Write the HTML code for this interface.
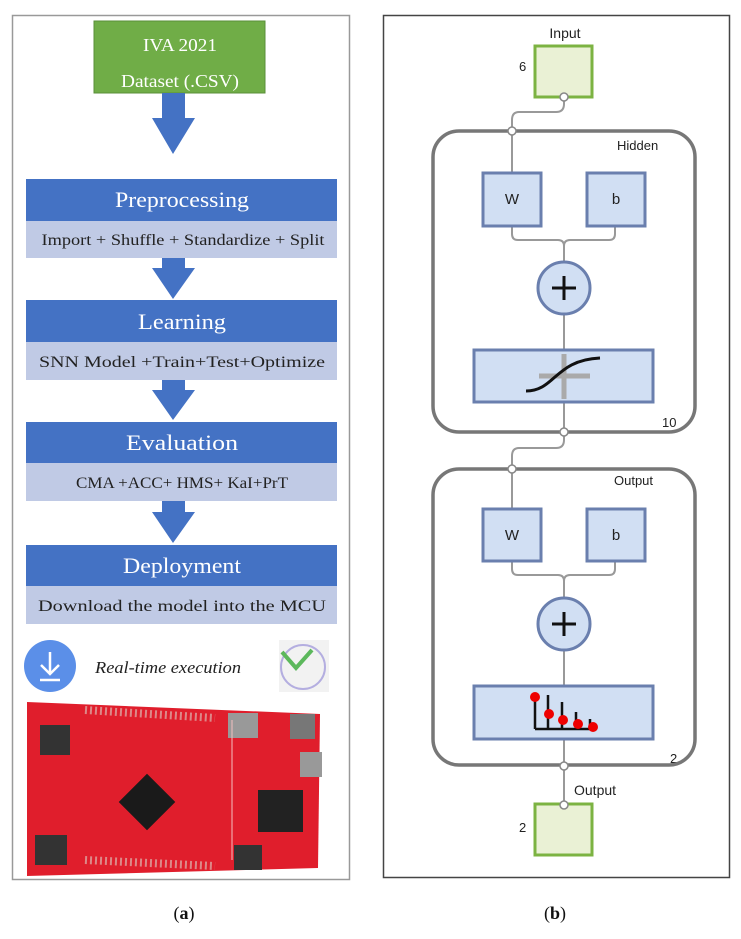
<!DOCTYPE html>
<html><head><meta charset="utf-8"><style>
html,body{margin:0;padding:0;background:#fff;}
svg{display:block;}
</style></head><body>
<svg width="741" height="939" viewBox="0 0 741 939" xmlns="http://www.w3.org/2000/svg">
<!-- LEFT PANEL -->
<rect x="12.5" y="15.5" width="337" height="864" fill="#fff" stroke="#999" stroke-width="1.5"/>
<rect x="94" y="21" width="171" height="72" fill="#70ad47" stroke="#5a8f38"/>
<text x="180" y="51" font-family="Liberation Serif,serif" font-size="18" fill="#fff" text-anchor="middle" textLength="74" lengthAdjust="spacingAndGlyphs">IVA 2021</text>
<text x="180" y="87" font-family="Liberation Serif,serif" font-size="18" fill="#fff" text-anchor="middle" textLength="118" lengthAdjust="spacingAndGlyphs">Dataset (.CSV)</text>
<g fill="#4472c4">
<polygon points="162,93 185,93 185,118 195,118 173,154 152,118 162,118"/>
<polygon points="162,258 185,258 185,268 195,268 173,299 152,268 162,268"/>
<polygon points="162,380 185,380 185,390 195,390 173,420 152,390 162,390"/>
<polygon points="162,501 185,501 185,512 195,512 173,543 152,512 162,512"/>
</g>
<g font-family="Liberation Serif,serif" text-anchor="middle">
<rect x="26" y="179" width="311" height="42" fill="#4472c4"/>
<rect x="26" y="221" width="311" height="37" fill="#c0cae5"/>
<text x="182" y="207" font-size="22" fill="#fff" textLength="134" lengthAdjust="spacingAndGlyphs">Preprocessing</text>
<text x="183" y="245" font-size="16" fill="#222" textLength="283" lengthAdjust="spacingAndGlyphs">Import + Shuffle + Standardize + Split</text>
<rect x="26" y="300" width="311" height="42" fill="#4472c4"/>
<rect x="26" y="342" width="311" height="38" fill="#c0cae5"/>
<text x="182" y="329" font-size="22" fill="#fff" textLength="88" lengthAdjust="spacingAndGlyphs">Learning</text>
<text x="182" y="367" font-size="16" fill="#222" textLength="286" lengthAdjust="spacingAndGlyphs">SNN Model +Train+Test+Optimize</text>
<rect x="26" y="422" width="311" height="41" fill="#4472c4"/>
<rect x="26" y="463" width="311" height="38" fill="#c0cae5"/>
<text x="182" y="450" font-size="22" fill="#fff" textLength="112" lengthAdjust="spacingAndGlyphs">Evaluation</text>
<text x="182" y="488" font-size="16" fill="#222" textLength="212" lengthAdjust="spacingAndGlyphs">CMA +ACC+ HMS+ KaI+PrT</text>
<rect x="26" y="545" width="311" height="41" fill="#4472c4"/>
<rect x="26" y="586" width="311" height="38" fill="#c0cae5"/>
<text x="182" y="573" font-size="22" fill="#fff" textLength="118" lengthAdjust="spacingAndGlyphs">Deployment</text>
<text x="182" y="611" font-size="16" fill="#222" textLength="288" lengthAdjust="spacingAndGlyphs">Download the model into the MCU</text>
<text x="168" y="673" font-size="17" font-style="italic" fill="#222" textLength="146" lengthAdjust="spacingAndGlyphs">Real-time execution</text>
</g>
<circle cx="50" cy="666" r="26" fill="#5b8fe8"/>
<path d="M50 652 V674 M41 665 L50 674 L59 665 M40 680 H60" stroke="#fff" stroke-width="2.5" fill="none"/>
<rect x="279" y="640" width="50" height="52" fill="#f2f2f2"/>
<circle cx="303" cy="667" r="22" fill="none" stroke="#b4aee0" stroke-width="2"/>
<path d="M282 652 L296 668 L312 650" stroke="#5cb85c" stroke-width="4" fill="none"/>
<!-- board -->
<polygon points="27,702 320,714 318,868 27,876" fill="#e01e2c"/>
<path d="M85 710 L215 718 M85 860 L215 866" stroke="#d88" stroke-width="8" stroke-dasharray="2 3"/>
<rect x="40" y="725" width="30" height="30" fill="#333"/><rect x="35" y="835" width="32" height="30" fill="#333"/>
<rect x="234" y="845" width="28" height="25" fill="#333"/>
<rect x="127" y="782" width="40" height="40" transform="rotate(45 147 802)" fill="#1a1a1a"/>
<rect x="258" y="790" width="45" height="42" fill="#222"/>
<rect x="228" y="713" width="30" height="25" fill="#999"/><rect x="300" y="752" width="22" height="25" fill="#999"/>
<rect x="290" y="714" width="25" height="25" fill="#777"/>
<path d="M232 720 V860" stroke="#f4c0c0" stroke-width="1"/>
<!-- RIGHT PANEL -->
<rect x="383.5" y="15.5" width="346" height="862" fill="#fff" stroke="#444" stroke-width="1.5"/>
<g font-family="Liberation Sans,sans-serif" fill="#222">
<text x="565" y="38" font-size="14" text-anchor="middle">Input</text>
<text x="519" y="71" font-size="13">6</text>
<text x="617" y="150" font-size="13">Hidden</text>
<text x="662" y="427" font-size="13">10</text>
<text x="614" y="485" font-size="13">Output</text>
<text x="670" y="763" font-size="13">2</text>
<text x="574" y="795" font-size="14">Output</text>
<text x="519" y="832" font-size="13">2</text>
</g>
<rect x="535" y="46" width="57" height="51" fill="#eaf1d5" stroke="#7cb342" stroke-width="3"/>
<rect x="535" y="804" width="57" height="51" fill="#eaf1d5" stroke="#7cb342" stroke-width="3"/>
<g fill="none" stroke="#999" stroke-width="2">
<path d="M564 97 V104 Q564 112 556 112 H519 Q512 112 512 120 V131"/>
<path d="M512 131 V172 M512 226 V234 Q512 240 518 240 H558 Q564 240 564 246 V261 M615 226 V234 Q615 240 609 240 H570 Q564 240 564 246 M564 315 V349 M564 402 V432"/>
<path d="M564 432 V440 Q564 448 556 448 H519 Q512 448 512 456 V469"/>
<path d="M512 469 V508 M512 561 V569 Q512 575 518 575 H558 Q564 575 564 581 V597 M615 561 V569 Q615 575 609 575 H570 Q564 575 564 581 M564 651 V686 M564 739 V766 M564 766 V803"/>
</g>
<rect x="433" y="131" width="262" height="301" rx="26" fill="none" stroke="#777" stroke-width="3.5"/>
<rect x="433" y="469" width="262" height="296" rx="26" fill="none" stroke="#777" stroke-width="3.5"/>
<g fill="#d1dff3" stroke="#6a7fae" stroke-width="3">
<rect x="483" y="173" width="58" height="53"/><rect x="587" y="173" width="58" height="53"/>
<circle cx="564" cy="288" r="26"/>
<rect x="474" y="350" width="179" height="52"/>
<rect x="483" y="509" width="58" height="52"/><rect x="587" y="509" width="58" height="52"/>
<circle cx="564" cy="624" r="26"/>
<rect x="474" y="686" width="179" height="53"/>
</g>
<g font-family="Liberation Sans,sans-serif" font-size="15" fill="#222" text-anchor="middle">
<text x="512" y="204">W</text><text x="616" y="204">b</text>
<text x="512" y="540">W</text><text x="616" y="540">b</text>
</g>
<path d="M564 276 V300 M552 288 H576 M564 612 V636 M552 624 H576" stroke="#111" stroke-width="3"/>
<path d="M564 354 V399 M539 376 H590" stroke="#aaa" stroke-width="5"/>
<path d="M526 391 C555 391 555 360 600 358" stroke="#111" stroke-width="3" fill="none"/>
<path d="M535 729 H595 M535 697 V729 M548 695 V729 M562 702 V729 M576 712 V729 M590 719 V729" stroke="#111" stroke-width="2.5"/>
<g fill="#e00"><circle cx="535" cy="697" r="5"/><circle cx="549" cy="714" r="5"/><circle cx="563" cy="720" r="5"/><circle cx="578" cy="724" r="5"/><circle cx="593" cy="727" r="5"/></g>
<g fill="#fff" stroke="#888" stroke-width="1.5">
<circle cx="564" cy="97" r="4"/><circle cx="512" cy="131" r="4"/><circle cx="564" cy="432" r="4"/><circle cx="512" cy="469" r="4"/><circle cx="564" cy="766" r="4"/><circle cx="564" cy="805" r="4"/>
</g>
<g font-family="Liberation Serif,serif" font-size="18" fill="#111" text-anchor="middle">
<text x="184" y="919">(<tspan font-weight="bold">a</tspan>)</text>
<text x="555" y="919">(<tspan font-weight="bold">b</tspan>)</text>
</g>
</svg>
</body></html>
